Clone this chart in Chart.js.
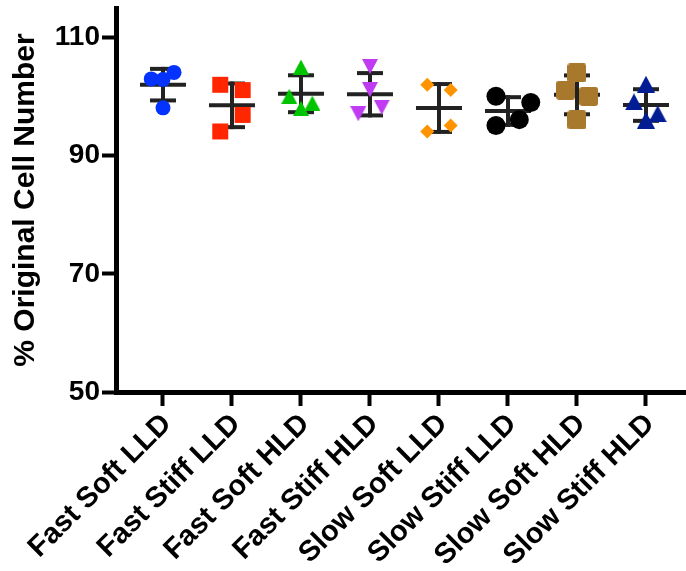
<!DOCTYPE html>
<html>
<head>
<meta charset="utf-8">
<script src="https://cdn.jsdelivr.net/npm/chart.js@4.4.1/dist/chart.umd.min.js"></script>
<style>
  html, body { margin: 0; padding: 0; background: #ffffff; }
  #wrap { width: 686px; height: 571px; }
</style>
</head>
<body>
<div id="wrap"><canvas id="c" width="686" height="571"></canvas></div>
<script>
// Groups along the x axis
const categories = [
  'Fast Soft LLD', 'Fast Stiff LLD', 'Fast Soft HLD', 'Fast Stiff HLD',
  'Slow Soft LLD', 'Slow Stiff LLD', 'Slow Soft HLD', 'Slow Stiff HLD'
];

// Replicate measurements (% of original cell number), one array per group
const fastSoftLLD  = [103.0, 102.9, 104.1, 98.1];
const fastStiffLLD = [102.0, 101.1, 96.9, 94.1];
const fastSoftHLD  = [105.0, 100.05, 98.9, 98.0];
const fastStiffHLD = [105.1, 101.2, 98.2, 97.1];
const slowSoftLLD  = [102.0, 101.1, 95.1, 94.1];
const slowStiffLLD = [100.05, 99.0, 96.1, 95.1];
const slowSoftHLD  = [104.0, 101.1, 100.05, 96.05];
const slowStiffHLD = [102.1, 99.1, 97.1, 96.0];

// Horizontal scatter of each replicate around its group (in group units)
const fastSoftLLDSpread  = [-0.17, 0, 0.16, 0];
const fastStiffLLDSpread = [-0.17, 0.155, 0.155, -0.17];
const fastSoftHLDSpread  = [0, -0.17, 0.165, 0];
const fastStiffHLDSpread = [0, 0, 0.17, -0.17];
const slowSoftLLDSpread  = [-0.17, 0.17, 0.17, -0.17];
const slowStiffLLDSpread = [-0.174, 0.33, 0.164, -0.174];
const slowSoftHLDSpread  = [0, -0.164, 0.17, 0];
const slowStiffHLDSpread = [0, -0.174, 0.17, 0];

const yTicks = [50, 70, 90, 110];

const groups = [fastSoftLLD, fastStiffLLD, fastSoftHLD, fastStiffHLD,
                slowSoftLLD, slowStiffLLD, slowSoftHLD, slowStiffHLD];
const spreads = [fastSoftLLDSpread, fastStiffLLDSpread, fastSoftHLDSpread, fastStiffHLDSpread,
                 slowSoftLLDSpread, slowStiffLLDSpread, slowSoftHLDSpread, slowStiffHLDSpread];

const mean = a => a.reduce((s, v) => s + v, 0) / a.length;
const sd = a => { const m = mean(a); return Math.sqrt(a.reduce((s, v) => s + (v - m) ** 2, 0) / (a.length - 1)); };

// Marker images for shapes that need a box-centred outline
function triangle(color, w, h, down) {
  const c = document.createElement('canvas');
  c.width = w; c.height = h;
  const g = c.getContext('2d');
  g.fillStyle = color;
  g.beginPath();
  if (down) { g.moveTo(0, 0); g.lineTo(w, 0); g.lineTo(w / 2, h); }
  else { g.moveTo(w / 2, 0); g.lineTo(w, h); g.lineTo(0, h); }
  g.closePath();
  g.fill();
  return c;
}
function roundSquare(color, s, r) {
  const c = document.createElement('canvas');
  c.width = s; c.height = s;
  const g = c.getContext('2d');
  g.fillStyle = color;
  g.beginPath();
  g.roundRect(0, 0, s, s, r);
  g.fill();
  return c;
}

const styles = [
  { color: '#0433FF', style: 'circle', radius: 7.5 },
  { color: '#FF2600', style: 'rect', radius: 11.3 },
  { color: '#00C400', style: triangle('#00C400', 16, 15, false), radius: 8 },
  { color: '#BF3CF2', style: triangle('#BF3CF2', 16, 15, true), radius: 8 },
  { color: '#FF9300', style: 'rectRot', radius: 7 },
  { color: '#000000', style: 'circle', radius: 9.5 },
  { color: '#A8792C', style: roundSquare('#A8792C', 19, 3), radius: 10 },
  { color: '#021C93', style: triangle('#021C93', 18, 17, false), radius: 9 }
];

const datasets = groups.map((vals, i) => ({
  label: categories[i],
  data: vals.map((v, j) => ({ x: i + spreads[i][j], y: v })),
  backgroundColor: styles[i].color,
  borderColor: styles[i].color,
  pointStyle: styles[i].style,
  pointRadius: styles[i].radius,
  pointHoverRadius: styles[i].radius,
  pointBorderWidth: 0
}));

// Mean line with ±SD whiskers behind the points
const errorBars = {
  id: 'errorBars',
  beforeDatasetsDraw(chart) {
    const { ctx, scales: { x, y } } = chart;
    const seg = (x1, y1, x2, y2) => { ctx.beginPath(); ctx.moveTo(x1, y1); ctx.lineTo(x2, y2); ctx.stroke(); };
    ctx.save();
    ctx.strokeStyle = '#222222';
    ctx.lineCap = 'butt';
    groups.forEach((vals, i) => {
      const m = mean(vals), s = sd(vals);
      const px = x.getPixelForValue(i);
      const yM = y.getPixelForValue(m);
      const yHi = y.getPixelForValue(m + s);
      const yLo = y.getPixelForValue(m - s);
      ctx.lineWidth = 4;
      seg(px, yHi - 2, px, yLo + 2);
      seg(px - 13, yHi, px + 13, yHi);
      seg(px - 13, yLo, px + 13, yLo);
      seg(px - 23, yM, px + 23, yM);
    });
    ctx.restore();
  }
};

const FONT = "'Liberation Sans', Arial, Helvetica, sans-serif";

new Chart(document.getElementById('c'), {
  type: 'scatter',
  data: { datasets },
  plugins: [errorBars],
  options: {
    responsive: false,
    animation: false,
    devicePixelRatio: 1,
    layout: { autoPadding: false, padding: { top: 8, left: 0, right: 0, bottom: 0 } },
    plugins: { legend: { display: false }, tooltip: { enabled: false } },
    scales: {
      x: {
        type: 'linear',
        min: -0.681,
        max: 7.58,
        afterBuildTicks: s => { s.ticks = categories.map((_, i) => ({ value: i })); },
        afterFit: s => { s.height = 179; s.paddingLeft = 0; s.paddingRight = 0; },
        ticks: {
          autoSkip: false,
          minRotation: 45,
          maxRotation: 45,
          padding: 1,
          labelOffset: 4,
          color: '#000000',
          font: { family: FONT, size: 29, weight: 'bold' },
          callback: (v, i) => categories[i]
        },
        grid: { drawOnChartArea: false, drawTicks: true, tickLength: 14, tickWidth: 4, tickColor: '#000000' },
        border: { display: true, width: 5, color: '#000000' }
      },
      y: {
        type: 'linear',
        min: 50,
        max: 115,
        afterBuildTicks: s => { s.ticks = yTicks.map(v => ({ value: v })); },
        afterFit: s => { s.width = 116; s.paddingTop = 0; s.paddingBottom = 0; },
        ticks: {
          padding: 2,
          color: '#000000',
          font: { family: FONT, size: 28, weight: 'bold' }
        },
        grid: { drawOnChartArea: false, drawTicks: true, tickLength: 14, tickWidth: 4, tickColor: '#000000' },
        border: { display: true, width: 5, color: '#000000' },
        title: {
          display: true,
          text: '% Original Cell Number',
          color: '#000000',
          padding: { top: 8, bottom: 0 },
          font: { family: FONT, size: 30, weight: 'bold' }
        }
      }
    }
  }
});
</script>
</body>
</html>
